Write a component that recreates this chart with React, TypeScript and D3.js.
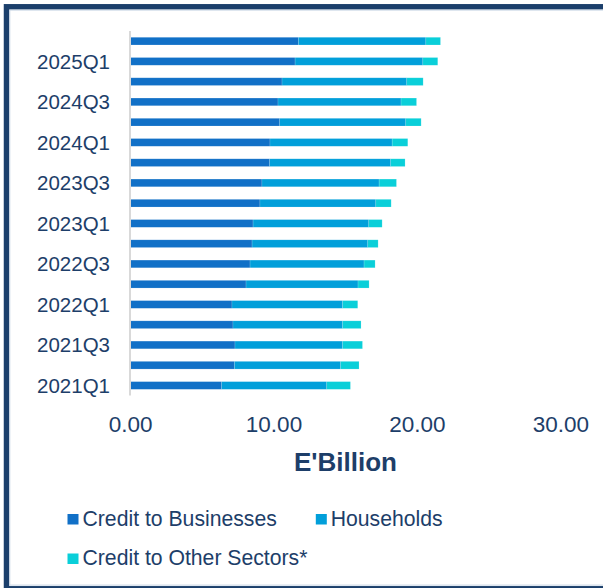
import React from "react";
import * as d3 from "d3";

const quarters = [
  "2021Q1", "2021Q2", "2021Q3", "2021Q4",
  "2022Q1", "2022Q2", "2022Q3", "2022Q4",
  "2023Q1", "2023Q2", "2023Q3", "2023Q4",
  "2024Q1", "2024Q2", "2024Q3", "2024Q4",
  "2025Q1", "2025Q2",
];
const businesses = [6.35, 7.24, 7.28, 7.14, 7.07, 8.05, 8.33, 8.47, 8.54, 9.02, 9.16, 9.7, 9.72, 10.4, 10.28, 10.56, 11.47, 11.7];
const households = [7.33, 7.41, 7.51, 7.65, 7.72, 7.81, 7.95, 8.07, 8.07, 8.08, 8.17, 8.44, 8.52, 8.79, 8.58, 8.7, 8.91, 8.89];
const otherSectors = [1.65, 1.28, 1.38, 1.28, 1.05, 0.77, 0.77, 0.72, 0.93, 1.07, 1.21, 1.0, 1.09, 1.07, 1.08, 1.14, 1.04, 1.02];
const seriesNames = ["Credit to Businesses", "Households", "Credit to Other Sectors*"];
const seriesKeys = ["businesses", "households", "other"];
const xTicks = [0, 10, 20, 30];
const axisTitle = "E'Billion";

const colors = ["#1170C7", "#019FDA", "#0ACFD9"];
const textColor = "#1D3E69";
const FONT = "'Liberation Sans', Arial, Helvetica, sans-serif";

export default function App() {
  const W = 603;
  const H = 588;

  const rows = quarters.map((q, i) => ({
    q,
    businesses: businesses[i],
    households: households[i],
    other: otherSectors[i],
  }));
  const stack = d3.stack<any>().keys(seriesKeys);
  const stacked = stack(rows);

  const x = d3.scaleLinear().domain([0, 30]).range([130.6, 560.8]);
  const y = d3
    .scaleBand<string>()
    .domain([...quarters].reverse())
    .range([31, 395.6])
    .paddingInner(0.62)
    .paddingOuter(0.31);

  const bw = y.bandwidth();

  return (
    <svg
      width={W}
      height={H}
      style={{ position: "absolute", left: 0, top: 0, display: "block", background: "#fff" }}
      fontFamily={FONT}
    >
      {/* frame */}
      <rect x={6.5} y={6.8} width={620} height={582} fill="none" stroke="#1B3F6B" strokeWidth={5.5} />
      <rect x={9.8} y={10.1} width={620} height={575} fill="none" stroke="#C9D5E4" strokeWidth={1} />

      {/* bars */}
      {stacked.map((s, si) => (
        <g key={seriesKeys[si]} fill={colors[si]}>
          {s.map((d: any, i: number) => (
            <rect
              key={quarters[i]}
              x={x(d[0])}
              y={y(quarters[i])}
              width={Math.max(0, x(d[1]) - x(d[0]))}
              height={bw}
              stroke="#ffffff"
              strokeOpacity={0.25}
              strokeWidth={0.6}
            />
          ))}
        </g>
      ))}

      {/* y axis line */}
      <line x1={130} x2={130} y1={31} y2={395.6} stroke="#D9D9D9" strokeWidth={2} />

      {/* y labels */}
      {quarters.map((q, i) =>
        i % 2 === 0 ? (
          <text
            key={q}
            x={110}
            y={(y(q) as number) + bw / 2}
            dy="0.36em"
            textAnchor="end"
            fontSize={20.5}
            fill={textColor}
          >
            {q}
          </text>
        ) : null
      )}

      {/* x tick labels */}
      {xTicks.map((t) => (
        <text key={t} x={x(t)} y={432} textAnchor="middle" fontSize={22.5} fill={textColor}>
          {d3.format(".2f")(t)}
        </text>
      ))}

      {/* axis title */}
      <text x={345.5} y={471} textAnchor="middle" fontSize={26} fontWeight="bold" fill={textColor}>
        {axisTitle}
      </text>

      {/* legend */}
      {seriesNames.map((name, i) => {
        const pos = [
          { sx: 67.5, sy: 514, tx: 82.5, ty: 525.7 },
          { sx: 315.8, sy: 514, tx: 330.7, ty: 525.7 },
          { sx: 67.5, sy: 553.5, tx: 82.5, ty: 565 },
        ][i];
        return (
          <g key={name}>
            <rect x={pos.sx} y={pos.sy} width={11} height={10.5} fill={colors[i]} />
            <text x={pos.tx} y={pos.ty} fontSize={21.2} fill={textColor}>
              {name}
            </text>
          </g>
        );
      })}
    </svg>
  );
}
